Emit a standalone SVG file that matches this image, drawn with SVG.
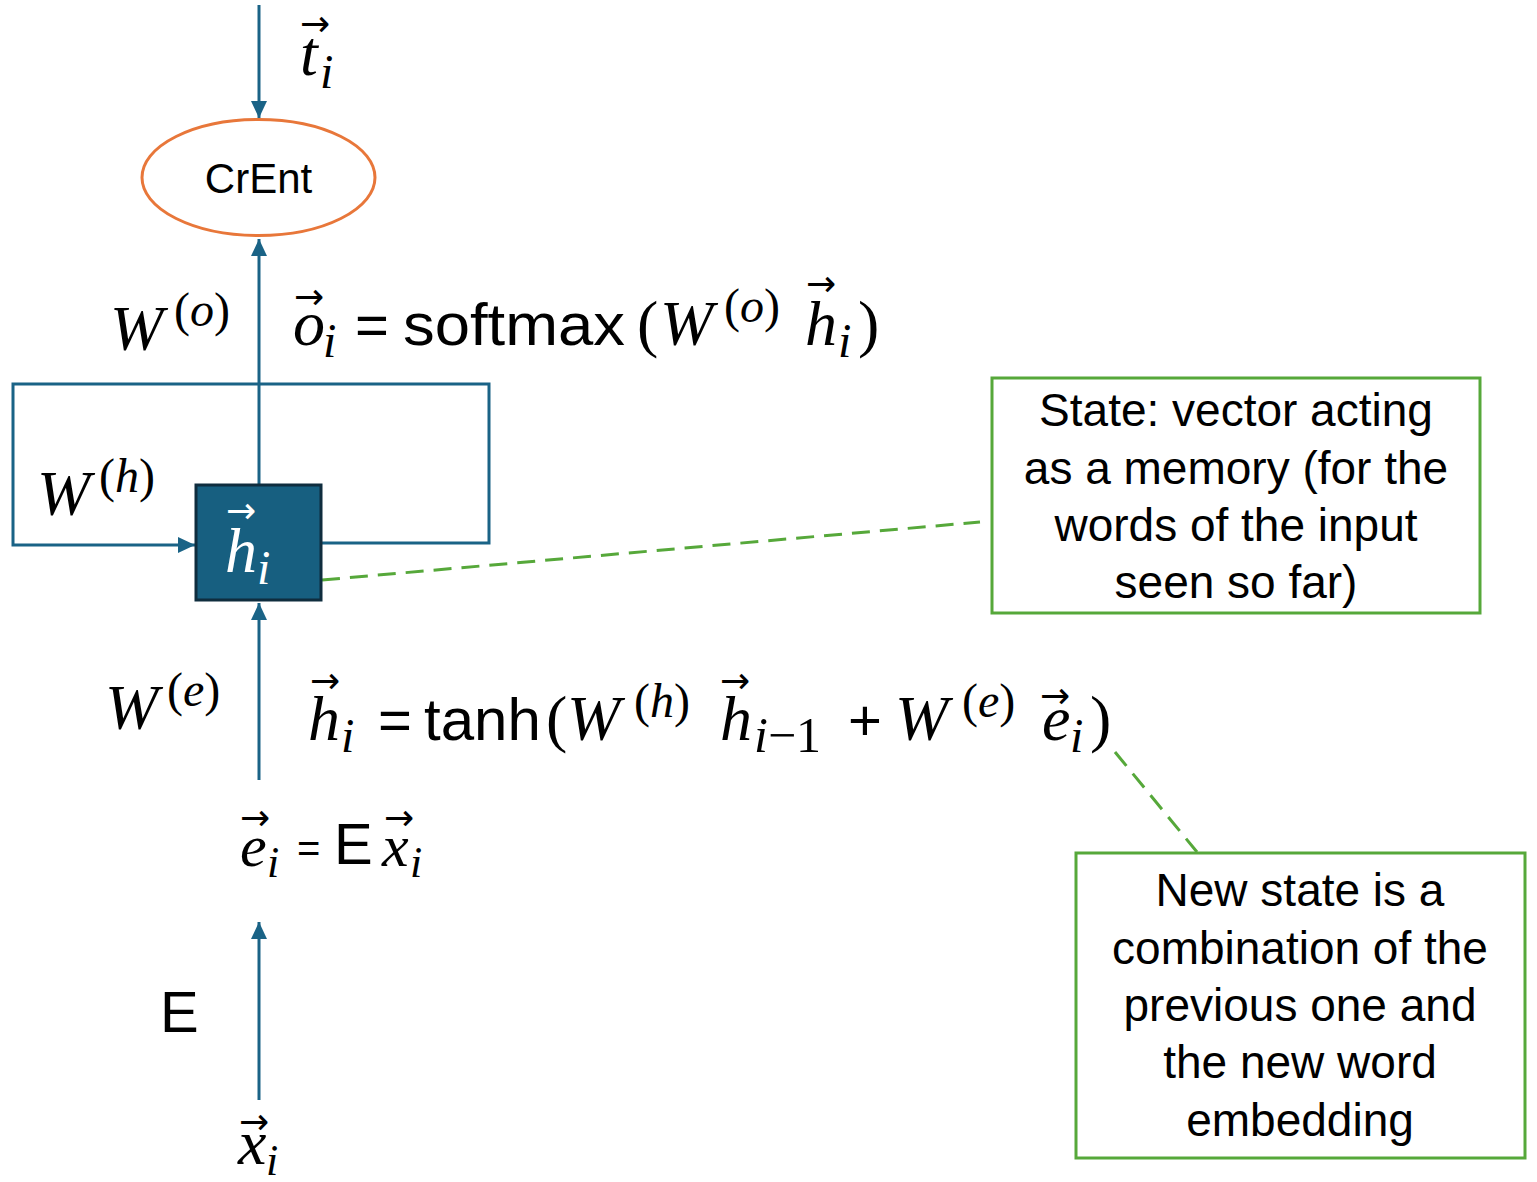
<svg xmlns="http://www.w3.org/2000/svg" width="1537" height="1182" viewBox="0 0 1537 1182">
<style>
.m{font-family:"Liberation Serif","DejaVu Serif",serif;font-style:italic;fill:#000}
.p{font-family:"Liberation Serif","DejaVu Serif",serif;fill:#000}
.s{font-family:"Liberation Sans",Arial,sans-serif;fill:#000}
.ar{font-family:"DejaVu Sans",sans-serif;font-size:36px;fill:#000}
.flow{stroke:#1a6386;stroke-width:3;fill:none}
.note{fill:#fff;stroke:#56a83a;stroke-width:3}
.dash{stroke:#56a83a;stroke-width:3;stroke-dasharray:18 10;fill:none}
.nt{font-family:"Liberation Sans",Arial,sans-serif;font-size:46px;fill:#000;text-anchor:middle}
</style>
<defs>
<marker id="ah" markerUnits="userSpaceOnUse" markerWidth="17" markerHeight="16" refX="17" refY="8" orient="auto">
<path d="M0,0 L17,8 L0,16 z" fill="#1a6386"/>
</marker>
</defs>
<rect width="1537" height="1182" fill="#fff"/>
<g id="connectors">
<line class="flow" x1="259" y1="5" x2="259" y2="118" marker-end="url(#ah)"/>
<line class="flow" x1="259" y1="484" x2="259" y2="239" marker-end="url(#ah)"/>
<path class="flow" d="M322,543 H489 V384 H13 V545 H195" marker-end="url(#ah)"/>
<line class="flow" x1="259" y1="780" x2="259" y2="603" marker-end="url(#ah)"/>
<line class="flow" x1="259" y1="1100" x2="259" y2="922" marker-end="url(#ah)"/>
<line class="dash" x1="322" y1="580" x2="980" y2="522"/>
<line class="dash" x1="1115" y1="752" x2="1197" y2="852"/>
</g>
<g id="crent">
<ellipse cx="258.5" cy="177.5" rx="116.5" ry="58" fill="#fff" stroke="#e8773a" stroke-width="3"/>
<text class="s" x="258.5" y="193" font-size="42" text-anchor="middle">CrEnt</text>
</g>
<g id="hidden-state">
<rect x="196" y="485" width="125" height="115" fill="#175f80" stroke="#0f2d3e" stroke-width="3"/>
<text class="ar" x="226" y="523" style="fill:#fff">→</text>
<text class="m" x="225" y="572" font-size="64" style="fill:#fff">h</text>
<text class="m" x="257" y="584" font-size="48" style="fill:#fff">i</text>
</g>
<g id="note-state">
<rect class="note" x="992" y="378" width="488" height="235"/>
<text class="nt" x="1236" y="426">State: vector acting</text>
<text class="nt" x="1236" y="484">as a memory (for the</text>
<text class="nt" x="1236" y="541">words of the input</text>
<text class="nt" x="1236" y="598">seen so far)</text>
</g>
<g id="note-new-state">
<rect class="note" x="1076" y="853" width="449" height="305"/>
<text class="nt" x="1300" y="906">New state is a</text>
<text class="nt" x="1300" y="964">combination of the</text>
<text class="nt" x="1300" y="1021">previous one and</text>
<text class="nt" x="1300" y="1078">the new word</text>
<text class="nt" x="1300" y="1136">embedding</text>
</g>
<g id="label-t">
<text class="ar" x="300" y="36">→</text>
<text class="m" x="300" y="75" font-size="64">t</text>
<text class="m" x="320" y="88" font-size="48">i</text>
</g>
<g id="label-wo">
<text class="m" x="110" y="350" font-size="64">W</text>
<text class="p" x="174" y="326" font-size="48">(<tspan font-style="italic">o</tspan>)</text>
</g>
<g id="eq-softmax">
<text class="ar" x="294" y="309">→</text>
<text class="m" x="293" y="345" font-size="64">o</text>
<text class="m" x="323" y="357" font-size="48">i</text>
<text class="s" x="355" y="345" font-size="58">=</text>
<text class="s" x="403" y="345" font-size="60" textLength="222" lengthAdjust="spacingAndGlyphs">softmax</text>
<text class="p" x="637" y="345" font-size="64">(</text>
<text class="m" x="660" y="345" font-size="64">W</text>
<text class="p" x="724" y="322" font-size="48">(<tspan font-style="italic">o</tspan>)</text>
<text class="ar" x="806" y="296">→</text>
<text class="m" x="805" y="345" font-size="64">h</text>
<text class="m" x="838" y="357" font-size="48">i</text>
<text class="p" x="858" y="345" font-size="64">)</text>
</g>
<g id="label-wh">
<text class="m" x="37" y="515" font-size="64">W</text>
<text class="p" x="99" y="492" font-size="48">(<tspan font-style="italic">h</tspan>)</text>
</g>
<g id="label-we">
<text class="m" x="105" y="729" font-size="64">W</text>
<text class="p" x="167" y="706" font-size="48">(<tspan font-style="italic">e</tspan>)</text>
</g>
<g id="eq-tanh">
<text class="ar" x="310" y="693">→</text>
<text class="m" x="308" y="740" font-size="64">h</text>
<text class="m" x="341" y="752" font-size="48">i</text>
<text class="s" x="378" y="740" font-size="58">=</text>
<text class="s" x="424" y="740" font-size="60">tanh</text>
<text class="p" x="546" y="740" font-size="64">(</text>
<text class="m" x="567" y="740" font-size="64">W</text>
<text class="p" x="634" y="717" font-size="48">(<tspan font-style="italic">h</tspan>)</text>
<text class="ar" x="720" y="693">→</text>
<text class="m" x="720" y="740" font-size="64">h</text>
<text class="m" x="754" y="752" font-size="50">i<tspan font-style="normal">−1</tspan></text>
<text class="s" x="848" y="740" font-size="58">+</text>
<text class="m" x="895" y="740" font-size="64">W</text>
<text class="p" x="962" y="717" font-size="48">(<tspan font-style="italic">e</tspan>)</text>
<text class="ar" x="1040" y="708">→</text>
<text class="m" x="1042" y="740" font-size="64">e</text>
<text class="m" x="1070" y="752" font-size="48">i</text>
<text class="p" x="1090" y="740" font-size="64">)</text>
</g>
<g id="eq-embed">
<text class="ar" x="240" y="830">→</text>
<text class="m" x="240" y="866" font-size="60">e</text>
<text class="m" x="267" y="877" font-size="44">i</text>
<text class="s" x="297" y="862" font-size="40">=</text>
<text class="s" x="334" y="864" font-size="58">E</text>
<text class="ar" x="384" y="830">→</text>
<text class="m" x="382" y="866" font-size="60">x</text>
<text class="m" x="410" y="877" font-size="44">i</text>
</g>
<g id="label-E">
<text class="s" x="160" y="1032" font-size="58">E</text>
</g>
<g id="label-x">
<text class="ar" x="239" y="1134">→</text>
<text class="m" x="238" y="1164" font-size="64">x</text>
<text class="m" x="266" y="1175" font-size="44">i</text>
</g>
</svg>
